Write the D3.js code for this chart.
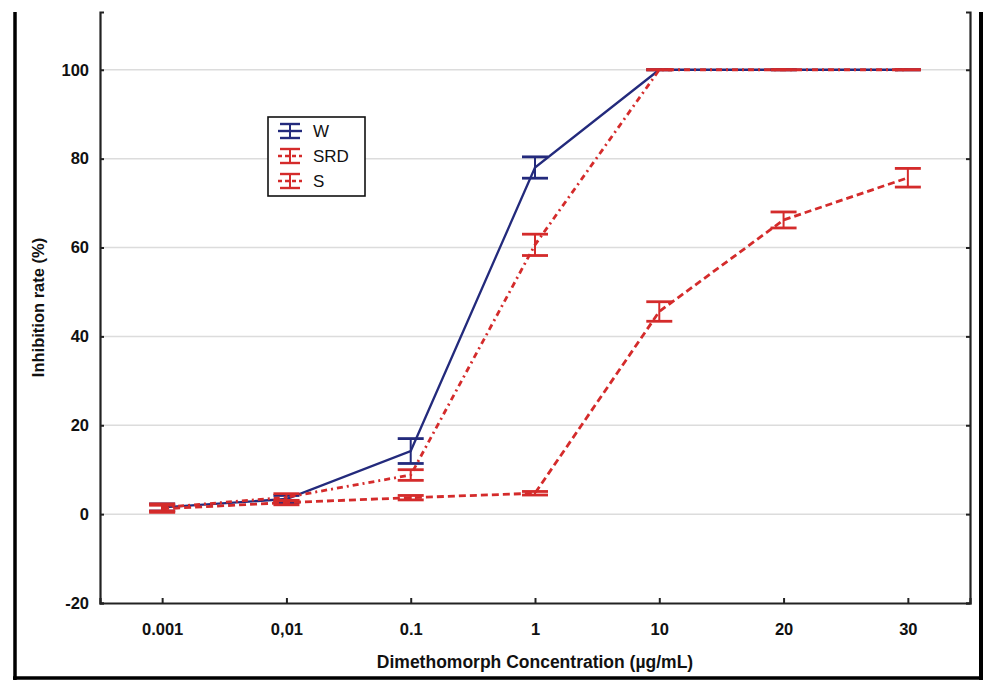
<!DOCTYPE html>
<html>
<head>
<meta charset="utf-8">
<script src="https://cdn.jsdelivr.net/npm/d3@7"></script>
<style>
  body { margin: 0; background: #fff; }
  svg text { font-family: "Liberation Sans", Arial, sans-serif; }
</style>
</head>
<body>
<div id="chart"></div>
<script>
(function() {

// concentrations (categorical axis)
var concentrations = ["0.001", "0,01", "0.1", "1", "10", "20", "30"];
var yTicks = [-20, 0, 20, 40, 60, 80, 100];

// means and half-widths of the error bars
var wMean   = [1.5, 3.4, 14.2, 78.0, 100, 100, 100];
var wErr    = [0.8, 0.8, 2.8, 2.4, 0, 0, 0];
var srdMean = [1.5, 3.8, 8.8, 60.6, 100, 100, 100];
var srdErr  = [0.8, 0.8, 1.2, 2.4, 0, 0, 0];
var sMean   = [1.2, 2.6, 3.7, 4.7, 45.6, 66.2, 75.7];
var sErr    = [0.8, 0.5, 0.5, 0.4, 2.2, 1.8, 2.1];

var series = [
  {name: "W",   mean: wMean,   err: wErr,   color: "#232a7c", dash: null,      width: 2.3},
  {name: "SRD", mean: srdMean, err: srdErr, color: "#d42b2b", dash: "6,4,2,4", width: 2.8},
  {name: "S",   mean: sMean,   err: sErr,   color: "#d42b2b", dash: "7,4",     width: 2.8}
];

var W = 987, H = 682;
var left = 100, right = 970, top = 12, bottom = 603;

var svg = d3.select("#chart").append("svg")
    .attr("width", W)
    .attr("height", H);

var x = d3.scalePoint()
    .domain(concentrations)
    .range([left, right])
    .padding(0.5);

var y = d3.scaleLinear()
    .domain([-20, 113])
    .range([bottom, top]);

// outer frame
svg.append("line").attr("x1", 15).attr("x2", 15).attr("y1", top).attr("y2", 680)
    .attr("stroke", "#000").attr("stroke-width", 3.5);
svg.append("line").attr("x1", 981).attr("x2", 981).attr("y1", top).attr("y2", 680)
    .attr("stroke", "#000").attr("stroke-width", 4);
svg.append("line").attr("x1", 13).attr("x2", 983).attr("y1", 678).attr("y2", 678)
    .attr("stroke", "#000").attr("stroke-width", 3.5);

// grid
svg.append("g")
  .selectAll("line")
    .data(yTicks.filter(function(d) { return d > -20; }))
  .enter().append("line")
    .attr("x1", left).attr("x2", right)
    .attr("y1", function(d) { return y(d); })
    .attr("y2", function(d) { return y(d); })
    .attr("stroke", "#dcdcdc")
    .attr("stroke-width", 1.5);

// axes
var yAxis = svg.append("g")
    .attr("transform", "translate(" + left + ",0)")
    .call(d3.axisLeft(y).tickValues(yTicks).tickSize(-4).tickPadding(11)
      .tickFormat(function(d) { return String(d); }));
yAxis.selectAll("text").style("font-size", "16.5px").style("font-weight", "bold").attr("fill", "#111");

svg.append("g")
    .attr("transform", "translate(" + right + ",0)")
    .call(d3.axisRight(y).tickValues(yTicks).tickSize(-4).tickFormat(""));

var xAxis = svg.append("g")
    .attr("transform", "translate(0," + bottom + ")")
    .call(d3.axisBottom(x).tickSize(-5).tickPadding(20));
xAxis.selectAll("text").style("font-size", "16.5px").style("font-weight", "bold").attr("fill", "#111");

svg.selectAll(".domain").attr("stroke", "#222").attr("stroke-width", 2.2);
svg.selectAll(".tick line").attr("stroke", "#222").attr("stroke-width", 2);

// axis titles
svg.append("text")
    .attr("x", (left + right) / 2)
    .attr("y", 668)
    .attr("text-anchor", "middle")
    .style("font-size", "17.5px")
    .style("font-weight", "bold")
    .attr("fill", "#111")
    .text("Dimethomorph Concentration (µg/mL)");

svg.append("text")
    .attr("transform", "translate(44," + ((top + bottom) / 2) + ") rotate(-90)")
    .attr("text-anchor", "middle")
    .style("font-size", "16.5px")
    .style("font-weight", "bold")
    .attr("fill", "#111")
    .text("Inhibition rate (%)");

// lines and error bars
var line = d3.line()
    .x(function(d) { return x(d.c); })
    .y(function(d) { return y(d.v); });

var capW = 13;

series.forEach(function(s) {
  var pts = concentrations.map(function(c, i) { return {c: c, v: s.mean[i], e: s.err[i]}; });
  var g = svg.append("g");

  g.append("path")
      .datum(pts)
      .attr("d", line)
      .attr("fill", "none")
      .attr("stroke", s.color)
      .attr("stroke-width", s.width)
      .attr("stroke-dasharray", s.dash);

  var bars = g.selectAll(".bar")
      .data(pts)
    .enter().append("g");

  bars.append("line")
      .attr("x1", function(d) { return x(d.c); })
      .attr("x2", function(d) { return x(d.c); })
      .attr("y1", function(d) { return y(d.v - d.e); })
      .attr("y2", function(d) { return y(d.v + d.e); })
      .attr("stroke", s.color).attr("stroke-width", 2);

  [-1, 1].forEach(function(sign) {
    bars.append("line")
        .attr("x1", function(d) { return x(d.c) - capW; })
        .attr("x2", function(d) { return x(d.c) + capW; })
        .attr("y1", function(d) { return y(d.v + sign * d.e); })
        .attr("y2", function(d) { return y(d.v + sign * d.e); })
        .attr("stroke", s.color).attr("stroke-width", 2.8);
  });
});

// legend
var legend = svg.append("g").attr("transform", "translate(268,117)");
legend.append("rect")
    .attr("width", 97).attr("height", 79)
    .attr("fill", "#fff").attr("stroke", "#111").attr("stroke-width", 1.6);

series.forEach(function(s, i) {
  var cy = 14 + i * 25;
  var it = legend.append("g").attr("transform", "translate(0," + cy + ")");
  it.append("line").attr("x1", 10).attr("x2", 34).attr("y1", 0).attr("y2", 0)
      .attr("stroke", s.color).attr("stroke-width", 2.4).attr("stroke-dasharray", s.dash ? "4,3" : null);
  it.append("line").attr("x1", 22).attr("x2", 22).attr("y1", -7).attr("y2", 7)
      .attr("stroke", s.color).attr("stroke-width", 2);
  [-7, 7].forEach(function(dy) {
    it.append("line").attr("x1", 12).attr("x2", 32).attr("y1", dy).attr("y2", dy)
        .attr("stroke", s.color).attr("stroke-width", 2.4);
  });
  it.append("text")
      .attr("x", 45).attr("y", 6)
      .style("font-size", "17px")
      .attr("fill", "#111")
      .text(s.name);
});

})();
</script>
</body>
</html>
